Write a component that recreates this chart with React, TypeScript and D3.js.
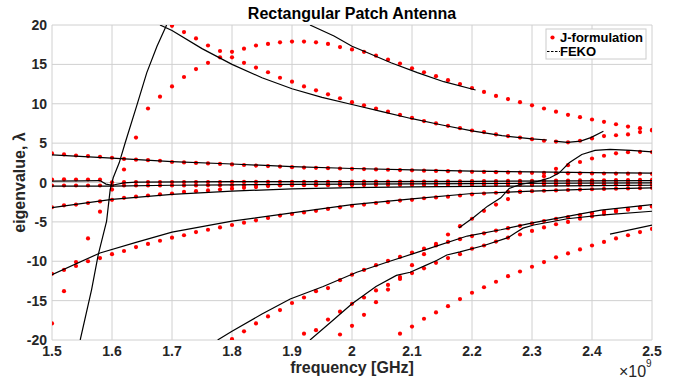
import React from 'react'
import * as d3 from 'd3'

// frequency samples (GHz) for the J-formulation eigenvalues
const freqs = [
  1.5, 1.52, 1.54, 1.56, 1.58, 1.6, 1.62, 1.64, 1.66, 1.68,
  1.7, 1.72, 1.74, 1.76, 1.78, 1.8, 1.82, 1.84, 1.86, 1.88,
  1.9, 1.92, 1.94, 1.96, 1.98, 2.0, 2.02, 2.04, 2.06, 2.08,
  2.1, 2.12, 2.14, 2.16, 2.18, 2.2, 2.22, 2.24, 2.26, 2.28,
  2.3, 2.32, 2.34, 2.36, 2.38, 2.4, 2.42, 2.44, 2.46, 2.48,
  2.5,
]

const modeA = [
  -17.9, -13.8, -10.1, -7.1, -3.7, -0.9, 1.65, 5.7, 9.4, 10.9,
  12.2, 13.4, 14.4, 15.2, 15.9, 16.6, 17.0, 17.4, 17.6, 17.8,
  17.9, 17.9, 17.8, 17.6, 17.2, 16.9, 16.6, 16.1, 15.6, 15.1,
  14.5, 14.0, 13.5, 13.0, 12.5, 12.0, 11.5, 11.0, 10.6, 10.2,
  9.8, 9.4, 9.0, 8.6, 8.3, 8.0, 7.7, 7.4, 7.1, 6.9,
  6.7,
]
const modeB = [
  null, null, null, null, null, null, null, null, null, null,
  19.9, 19.1, 18.3, 17.4, 16.7, 15.9, 15.2, 14.6, 14.0, 13.3,
  12.8, 12.2, 11.7, 11.2, 10.7, 10.2, 9.8, 9.4, 9.0, 8.6,
  8.2, 7.8, 7.5, 7.2, 6.9, 6.6, 6.4, 6.1, 5.9, 5.7,
  5.5, 5.3, 5.2, 5.1, 5.3, 5.6, 5.9, 6.0, 6.1, 6.4,
  6.6,
]
const modeE = [
  3.69, 3.56, 3.43, 3.35, 3.27, 3.14, 3.0, 2.9, 2.84, 2.76,
  2.6, 2.55, 2.48, 2.42, 2.36, 2.3, 2.22, 2.15, 2.08, 2.02,
  1.95, 1.9, 1.86, 1.82, 1.78, 1.74, 1.7, 1.66, 1.62, 1.58,
  1.55, 1.5, 1.47, 1.44, 1.4, 1.36, 1.34, 1.31, 1.28, 1.25,
  1.23, 1.21, 1.19, 1.17, 1.16, 1.15, 1.14, 1.13, 1.12, 1.11,
  1.1,
]
const modeD = [
  -11.6, -11.1, -10.6, -10.0, -9.6, -9.1, -8.7, -8.2, -7.8, -7.4,
  -7.0, -6.7, -6.3, -6.0, -5.7, -5.4, -5.1, -4.8, -4.5, -4.2,
  -4.0, -3.8, -3.6, -3.35, -3.15, -2.95, -2.8, -2.6, -2.5, -2.3,
  -2.2, -2.0, -1.9, -1.8, -1.65, -1.5, -1.4, -1.3, -1.2, -1.15,
  -1.1, -1.05, -1.0, -0.95, -0.9, -0.86, -0.82, -0.78, -0.75, -0.72,
  -0.68,
]
const modeF = [
  -3.14, -2.9, -2.8, -2.6, -2.4, -2.2, -1.95, -1.8, -1.65, -1.5,
  -1.4, -1.2, -1.1, -1.0, -0.9, -0.78, -0.68, -0.58, -0.46, -0.36,
  -0.28, -0.25, -0.22, -0.2, -0.18, -0.16, -0.15, -0.14, -0.13, -0.12,
  -0.11, -0.1, -0.09, -0.08, -0.07, -0.06, -0.05, -0.04, -0.03, -0.02,
  -0.01, 0, 0.01, 0.02, 0.03, 0.04, 0.05, 0.05, 0.06, 0.06,
  0.07,
]
const modeN1 = [
  0.38, 0.4, 0.38, 0.38, 0.36, 0.02, 0.04, 0.05, 0.05, 0.05,
  0.05, 0.06, 0.06, 0.06, 0.06, 0.07, 0.07, 0.07, 0.07, 0.08,
  0.08, 0.08, 0.08, 0.09, 0.09, 0.1, 0.1, 0.1, 0.11, 0.12,
  0.12, 0.13, 0.14, 0.15, 0.16, 0.17, 0.18, 0.19, 0.2, 0.21,
  0.22, 0.23, 0.24, 0.25, 0.26, 0.27, 0.28, 0.3, 0.31, 0.33,
  0.35,
]
const modeN2 = [
  -0.38, -0.38, -0.38, -0.38, -0.38, -0.38, -0.38, -0.38, -0.38, -0.37,
  -0.37, -0.37, -0.37, -0.36, -0.36, -0.36, -0.36, -0.35, -0.35, -0.35,
  -0.35, -0.34, -0.34, -0.34, -0.33, -0.33, -0.33, -0.32, -0.32, -0.32,
  -0.31, -0.31, -0.31, -0.3, -0.3, -0.3, -0.29, -0.29, -0.29, -0.28,
  -0.28, -0.28, -0.27, -0.27, -0.27, -0.26, -0.26, -0.26, -0.25, -0.25,
  -0.25,
]
const modeG = [
  null, null, null, null, null, null, null, null, null, null,
  null, null, null, null, null, null, null, null, null, null,
  null, -19.2, -18.75, -17.4, -16.4, -15.4, -14.6, -13.7, -13.0, -12.0,
  -10.5, -9.1, -7.8, -6.6, -5.55, -4.6, -3.6, -2.8, -2.1, -1.2,
  -0.3, 0.8, 1.74, 2.2, 2.6, 3.05, 3.4, 3.7, 3.85, 3.9,
  3.86,
]
const modeH = [
  null, null, null, null, null, null, null, null, null, null,
  null, null, null, null, null, -19.9, -18.9, -17.9, -17.0, -16.2,
  -15.3, -14.6, -13.8, -13.4, -12.4, -11.7, -11.1, -10.5, -9.95, -9.45,
  -8.9, -8.4, -8.0, -7.55, -7.2, -6.8, -6.45, -6.1, -5.8, -5.5,
  -5.2, -4.9, -4.6, -4.4, -4.15, -3.9, -3.7, -3.55, -3.35, -3.2,
  -3.05,
]
const modeJ = [
  null, null, null, null, null, null, null, null, null, null,
  null, null, null, null, null, null, null, null, null, null,
  null, null, null, null, -19.3, -18.2, -16.8, -15.2, -13.6, -12.25,
  -11.5, -10.9, -10.2, -9.6, -9.1, -8.4, -8.0, -7.5, -7.0, -6.6,
  -6.15, -5.7, -5.3, -5.0, -4.6, -4.3, -4.0, -3.7, -3.45, -3.2,
  -3.0,
]
const modeK = [
  null, null, null, null, null, null, null, null, null, null,
  null, null, null, null, null, null, null, null, null, null,
  null, null, null, null, null, null, null, null, null, -19.2,
  -18.3, -17.3, -16.5, -15.7, -14.8, -14.0, -13.3, -12.6, -11.9, -11.3,
  -10.7, -10.1, -9.5, -9.0, -8.5, -8.0, -7.55, -7.1, -6.7, -6.3,
  -5.9,
]

const jModes = [modeA, modeB, modeE, modeD, modeF, modeN1, modeN2, modeG, modeH, modeJ, modeK]

// FEKO curves as [frequency GHz, eigenvalue] pairs
const fekoE = [[1.5, 3.5], [1.6, 3.1], [1.7, 2.65], [1.8, 2.35], [1.9, 2.02], [2.0, 1.78], [2.1, 1.6], [2.2, 1.45], [2.3, 1.35], [2.4, 1.25], [2.5, 1.18]]
const fekoSteep = [[1.547, -20], [1.566, -13.6], [1.577, -9.2], [1.591, -4.9], [1.597, -0.9], [1.602, 0.6], [1.612, 2.5], [1.622, 5.05], [1.641, 9.7], [1.658, 13.95], [1.675, 17.3], [1.691, 20]]
const fekoTop1 = [[1.68, 20], [1.7, 19.3], [1.75, 17.0], [1.8, 15.0], [1.85, 13.3], [1.9, 11.9], [1.95, 10.8], [2.0, 9.9], [2.05, 9.0], [2.1, 8.1], [2.15, 7.3], [2.2, 6.55], [2.25, 5.95], [2.3, 5.55], [2.325, 5.4]]
const fekoTop1b = [[2.337, 5.25], [2.359, 5.1], [2.381, 5.25], [2.398, 5.7], [2.419, 6.5]]
const fekoTop2 = [[1.93, 20], [1.97, 18.6], [2.0, 17.3], [2.025, 16.5], [2.065, 15.2], [2.109, 13.95], [2.153, 12.8], [2.206, 11.75]]
const fekoD = [[1.5, -11.7], [1.58, -8.95], [1.64, -7.6], [1.7, -6.3], [1.8, -4.9], [1.9, -3.86], [2.0, -2.8], [2.1, -2.07], [2.2, -1.4], [2.3, -1.1], [2.4, -0.85], [2.5, -0.68]]
const fekoF = [[1.5, -3.2], [1.6, -2.15], [1.7, -1.5], [1.8, -1.1], [1.9, -0.8], [2.0, -0.65], [2.1, -0.55], [2.2, -0.5], [2.3, -0.45], [2.4, -0.4], [2.5, -0.35]]
const fekoZ1 = [[1.5, 0.17], [1.55, 0.2], [1.58, 0.25], [1.59, -0.2], [1.6, -0.35]]
const fekoZ2 = [[1.5, -0.45], [1.6, -0.45], [1.7, -0.35], [1.8, -0.3], [1.9, -0.25], [2.0, -0.2], [2.2, -0.15], [2.5, -0.05]]
const fekoZ3 = [[1.6, -0.35], [1.62, -0.05], [1.64, 0.05], [1.8, 0.1], [2.0, 0.12], [2.2, 0.15], [2.5, 0.25]]
const fekoG = [[2.178, -5.77], [2.203, -4.4], [2.226, -3.0], [2.248, -1.95], [2.262, -0.75], [2.28, -0.25], [2.31, 0.15], [2.33, 0.6], [2.345, 1.2], [2.362, 2.5], [2.383, 3.56], [2.405, 4.08], [2.43, 4.2], [2.465, 4.07], [2.5, 3.88]]
const fekoH = [[1.776, -20], [1.8, -18.9], [1.85, -16.7], [1.897, -14.8], [1.952, -13.2], [2.008, -11.4], [2.063, -10.0], [2.124, -8.5], [2.192, -6.8], [2.248, -6.0], [2.303, -5.1], [2.359, -4.3], [2.415, -3.5], [2.5, -2.8]]
const fekoI = [[1.93, -20], [1.963, -17.85], [2.0, -15.4], [2.04, -13.2], [2.074, -11.8], [2.097, -11.4], [2.119, -10.65], [2.141, -9.9], [2.158, -9.2], [2.18, -8.8], [2.22, -8.0], [2.26, -7.0], [2.272, -6.4], [2.285, -5.8], [2.303, -5.4], [2.359, -4.6], [2.415, -4.15], [2.5, -3.65]]
const fekoK = [[2.43, -6.55], [2.5, -5.4]]

const fekoCurves = [fekoE, fekoSteep, fekoTop1, fekoTop1b, fekoTop2, fekoD, fekoF, fekoZ1, fekoZ2, fekoZ3, fekoG, fekoH, fekoI, fekoK]

const xTicks = [1.5, 1.6, 1.7, 1.8, 1.9, 2.0, 2.1, 2.2, 2.3, 2.4, 2.5]
const yTicks = [-20, -15, -10, -5, 0, 5, 10, 15, 20]

const W = 674
const H = 381
const margin = { top: 25, right: 22, bottom: 41, left: 52 }

export default function App() {
  const x = d3.scaleLinear().domain([1.5, 2.5]).range([margin.left, W - margin.right])
  const y = d3.scaleLinear().domain([-20, 20]).range([H - margin.bottom, margin.top])
  const line = d3.line<number[]>().x(d => x(d[0])).y(d => y(d[1]))
  const font = '"Liberation Sans", Arial, Helvetica, sans-serif'
  const cx = (x(1.5) + x(2.5)) / 2

  return (
    <svg width={W} height={H} style={{ position: 'absolute', left: 0, top: 0, background: '#fff' }} fontFamily={font}>
      <defs>
        <clipPath id="plot">
          <rect x={x(1.5)} y={y(20)} width={x(2.5) - x(1.5)} height={y(-20) - y(20)} />
        </clipPath>
      </defs>
      <rect width={W} height={H} fill="#fff" />

      {/* grid */}
      {xTicks.map(t => (
        <line key={'gx' + t} x1={x(t)} x2={x(t)} y1={y(20)} y2={y(-20)} stroke="#d0d0d0" strokeWidth={1} />
      ))}
      {yTicks.map(t => (
        <line key={'gy' + t} x1={x(1.5)} x2={x(2.5)} y1={y(t)} y2={y(t)} stroke="#d0d0d0" strokeWidth={1} />
      ))}

      {/* J-formulation dots */}
      <g clipPath="url(#plot)">
        {jModes.map((mode, m) =>
          mode.map((v, i) =>
            v == null ? null : <circle key={m + '-' + i} cx={x(freqs[i])} cy={y(v)} r={2.1} fill="#ff0000" />
          )
        )}
      </g>

      {/* FEKO curves */}
      <g clipPath="url(#plot)">
        {fekoCurves.map((c, k) => (
          <path key={'f' + k} d={line(c) || ''} fill="none" stroke="#000" strokeWidth={1.2} />
        ))}
      </g>

      {/* ticks */}
      {xTicks.map(t => (
        <text key={'tx' + t} x={x(t)} y={356} textAnchor="middle" fontSize={14} fontWeight="bold" fill="#262626">
          {String(t)}
        </text>
      ))}
      {yTicks.map(t => (
        <text key={'ty' + t} x={x(1.5) - 5} y={y(t) + 5} textAnchor="end" fontSize={14} fontWeight="bold" fill="#262626">
          {t}
        </text>
      ))}

      <text x={cx} y={19} textAnchor="middle" fontSize={16} fontWeight="bold" fill="#000">
        Rectangular Patch Antenna
      </text>
      <text x={cx} y={373} textAnchor="middle" fontSize={16} fontWeight="bold" fill="#262626">
        frequency [GHz]
      </text>
      <text transform={`translate(24.5,${(y(20) + y(-20)) / 2}) rotate(-90)`} textAnchor="middle" fontSize={16} fontWeight="bold" fill="#262626">
        eigenvalue, λ
      </text>
      <text x={619} y={377} fontSize={16} fill="#262626">
        ×10
      </text>
      <text x={646} y={367} fontSize={10} fill="#262626">
        9
      </text>

      {/* legend */}
      <g>
        <rect x={546} y={29} width={100} height={30} fill="#fff" stroke="#cccccc" strokeWidth={1} />
        <circle cx={552.5} cy={37.5} r={2.1} fill="#ff0000" />
        <text x={560} y={42} fontSize={13} fontWeight="bold" fill="#000">J-formulation</text>
        <line x1={547} x2={560} y1={51.5} y2={51.5} stroke="#000" strokeWidth={1} strokeDasharray="2.5,1.5" />
        <text x={560} y={55.5} fontSize={13} fontWeight="bold" fill="#000">FEKO</text>
      </g>
    </svg>
  )
}
